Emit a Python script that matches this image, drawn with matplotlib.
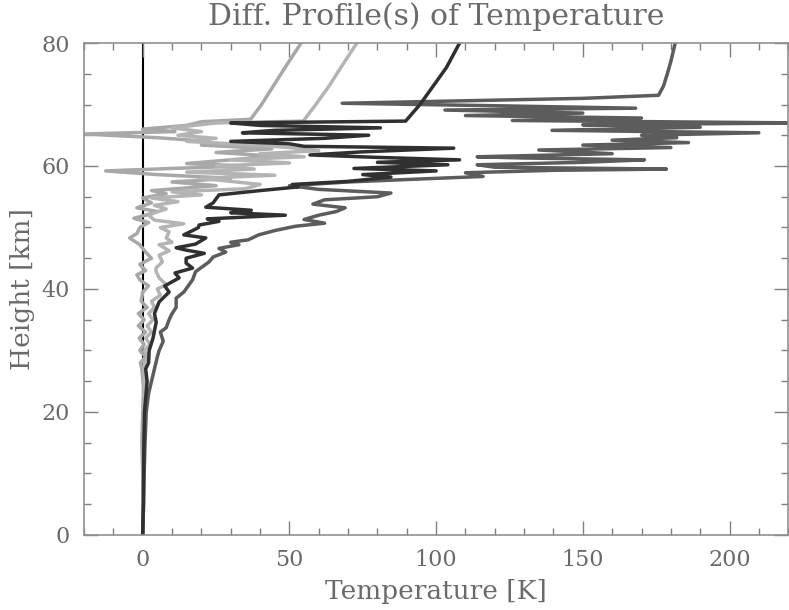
import matplotlib
matplotlib.use("Agg")
import matplotlib.pyplot as plt
from matplotlib.ticker import MultipleLocator

plt.rc("font", family="DejaVu Serif")

# Difference profiles: height [km] and temperature difference [K]
h1 = [0, 5, 10, 15, 20, 24, 27, 28, 29, 30, 31, 32, 33, 34, 35, 36, 37, 38, 39.5,
      40.5, 41.5, 42.3, 43, 44, 45, 46, 47.2, 48.3, 49, 50, 50.8, 51.5, 52, 52.6,
      53.2, 54, 54.8, 55.5, 56, 56.8, 57.4, 58, 58.6, 59.2, 59.6, 60, 60.4, 61,
      61.6, 62.2, 62.8, 63.4, 64, 64.6, 65.2, 65.6, 66, 66.6, 67.2, 67.6, 70, 73,
      76, 80]
t1 = [0, 0.2, 0, -0.3, 0, 0.3, -0.3, -0.8, 1, -1, 0.5, -1.2, 1, -1.5, 0.5, -1.5,
      1.5, -0.5, 0, 2, -1, -2, 1, -1, 3, 1, -1, -4.5, -2, -1, 2, -3, 1, 5, -2, 3,
      0, 8, 3, 25, 10, 30, 5, -12.6, 10, 35, 15, 30, 45, 25, 44, 20, 22.6, 5, -20,
      11, 0, 15, 20, 36.8, 40.5, 44.5, 48.5, 54]

h2 = [0, 5, 10, 15, 20, 24, 27, 28, 29, 30, 31, 32, 33, 34, 35, 36, 37, 38, 39, 40,
      40.7, 41.8, 42.8, 43.4, 44.4, 45.5, 46.2, 47.2, 47.6, 48.3, 49.3, 50, 50.6,
      51.2, 52, 52.5, 53, 53.6, 54.2, 54.8, 55.3, 55.8, 56.3, 57, 57.5, 58, 58.5,
      59, 59.5, 60, 60.5, 61, 61.5, 62, 62.5, 63, 63.5, 64, 64.5, 65, 65.6, 66.2,
      67, 67.3, 70, 73, 76, 80]
t2 = [0, 0.3, 0.2, 0.4, 0.3, 0.6, 0.5, 0.5, 2, 0.5, 2.5, 1, 3, 1.5, 3.5, 2, 4, 3, 6,
      5, 8, 5.6, 4.6, 4.5, 6.7, 5.6, 9, 5.6, 10, 8, 9, 6, 14, 4, 2, 4.6, 8, 4, 12,
      3, 20, 10, 35, 40, 30, 20, 45, 15, 38, 25, 50, 30, 55, 40, 60, 50, 35, 15,
      25, 12, 20, 10, 25, 54.7, 59, 63.5, 67.5, 73]

h3 = [0, 5, 10, 15, 20, 25, 27, 28, 30, 32, 34.6, 36, 37.9, 39.5, 40.5, 41.8, 42.6,
      43.4, 44.2, 45, 45.8, 46.3, 46.7, 47.3, 48.3, 48.8, 49.5, 50, 50.4, 51, 51.4,
      52, 52.4, 52.8, 53.3, 54, 55.3, 56, 56.6, 57, 57.5, 58.2, 58.6, 59.2, 59.6,
      60.2, 60.6, 61, 61.4, 61.8, 62.3, 62.9, 63.2, 63.6, 64, 64.5, 65, 65.4, 65.8,
      66.2, 66.6, 67, 67.3, 70, 73, 76, 80]
t3 = [0, 0.2, 0.3, 0.4, 0.6, 1.5, 1, 2, 2.2, 3.5, 4.6, 4, 5.6, 9, 7.5, 12.4, 11, 17,
      14.8, 14.8, 21, 15, 11.4, 18, 21.5, 14, 17, 19, 19.2, 26, 22, 48.6, 30, 37,
      21.5, 24, 26, 40, 53, 51, 70, 84.6, 75, 100, 72, 104, 80, 108, 80, 57, 75,
      106, 55, 50, 30, 62, 77, 34, 45, 81, 40, 30, 89.6, 94.5, 99, 103.5, 108]

h4 = [0, 5, 10, 15, 20, 23, 25, 27, 29, 30, 31.5, 33, 33.7, 35, 36, 37, 38.5, 39.5,
      40.7, 41.5, 42.8, 43.5, 44.4, 45.2, 46, 46.6, 47.2, 47.6, 48, 48.8, 49.5,
      50.2, 50.7, 51.3, 52, 52.6, 53.2, 53.8, 54.5, 55, 55.6, 56.2, 56.8, 57.4,
      57.8, 58.3, 58.9, 59.3, 59.5, 59.8, 60.2, 60.6, 61, 61.3, 61.5, 62, 62.6,
      63, 63.4, 63.8, 64.2, 64.6, 65, 65.4, 65.8, 66.3, 66.7, 67, 67.4, 67.8, 68.2,
      68.6, 69.1, 69.4, 69.8, 70.2, 71.0, 71.5, 73, 75, 77, 80]
t4 = [0, 0.3, 0.5, 0.8, 1.2, 2, 3, 4, 5, 5.6, 7, 6, 8, 9, 10, 11.4, 11.4, 14, 15.8,
      17, 18, 20, 22.6, 24, 28.3, 26, 32.8, 30, 36, 39.5, 45, 52, 62, 55, 60, 66,
      69, 58, 62, 80, 84.6, 60, 50, 70, 90, 116, 110, 140, 178.5, 120, 114, 150,
      171, 130, 114, 160, 135, 180, 150, 186, 160, 182, 170, 210, 139.5, 190, 150,
      225, 126, 170, 110, 150, 103, 168, 120, 68, 150, 175.8, 177.5, 178.8, 180,
      181.5]

profiles = [(h1, t1, "#a8a8a8"), (h2, t2, "#b4b4b4"),
            (h4, t4, "#5c5c5c"), (h3, t3, "#303030")]

fig = plt.figure(figsize=(7.89, 6.10), dpi=100)
ax = fig.add_axes([0.1065, 0.123, 0.8925, 0.8065])

ax.plot([0, 0], [0, 80], color="black", lw=1.5, zorder=1)
for h, t, c in profiles:
    ax.plot(t, h, color=c, lw=2.5, zorder=2)

ax.set_xlim(-20, 220)
ax.set_ylim(0, 80)
ax.xaxis.set_major_locator(MultipleLocator(50))
ax.xaxis.set_minor_locator(MultipleLocator(10))
ax.yaxis.set_major_locator(MultipleLocator(20))
ax.yaxis.set_minor_locator(MultipleLocator(5))

txt = "#6a6a6a"
for s in ax.spines.values():
    s.set_color("#909090")
    s.set_linewidth(1.2)
ax.tick_params(which="both", direction="in", top=True, right=True,
               color="#808080", labelcolor=txt, labelsize=16, width=1)
ax.tick_params(which="major", length=10, pad=10)
ax.tick_params(which="minor", length=5)

ax.set_title("Diff. Profile(s) of Temperature", fontsize=21.5, color=txt, pad=13)
ax.set_xlabel("Temperature [K]", fontsize=19, color=txt, labelpad=6)
ax.set_ylabel("Height [km]", fontsize=19, color=txt, labelpad=5)

fig.savefig("out.png", dpi=100)
